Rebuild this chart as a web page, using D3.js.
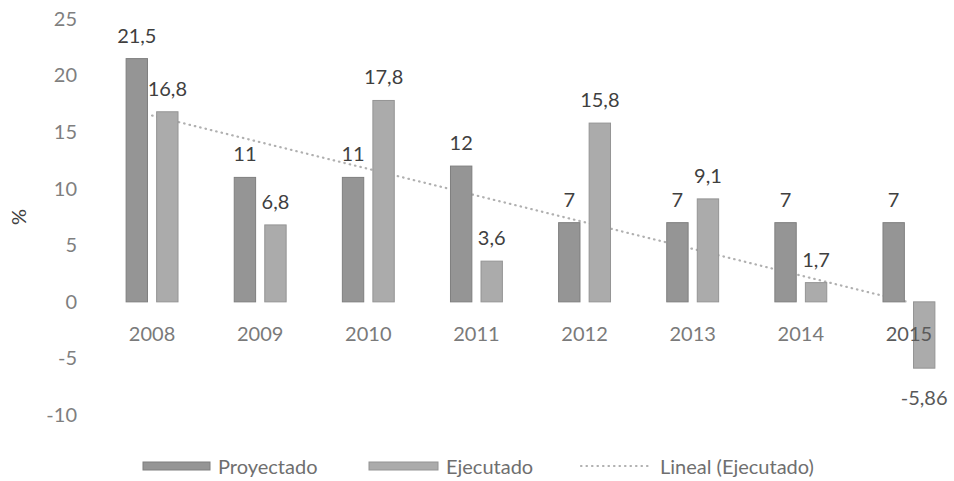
<!DOCTYPE html>
<html>
<head>
<meta charset="utf-8">
<script src="https://cdn.jsdelivr.net/npm/d3@7"></script>
<style>
  body { margin: 0; background: #fff; }
  text { font-family: Lato, "Open Sans", sans-serif; }
</style>
</head>
<body>
<div id="chart"></div>
<script>
// data
var years = ["2008", "2009", "2010", "2011", "2012", "2013", "2014", "2015"];
var seriesNames = ["Proyectado", "Ejecutado"];
var proyectado = [21.5, 11, 11, 12, 7, 7, 7, 7];
var ejecutado = [16.8, 6.8, 17.8, 3.6, 15.8, 9.1, 1.7, -5.86];
var yTicks = [-10, -5, 0, 5, 10, 15, 20, 25];

var width = 954, height = 481;
var fills = { Proyectado: "#959595", Ejecutado: "#ababab" };
var strokes = { Proyectado: "#7f7f7f", Ejecutado: "#949494" };

var svg = d3.select("#chart").append("svg")
  .attr("width", width)
  .attr("height", height);

// scales
var x0 = d3.scaleBand()
  .domain(years)
  .range([98, 963])
  .paddingInner(0.52)
  .paddingOuter(0.26);
var x1 = d3.scaleBand()
  .domain(seriesNames)
  .range([0, x0.bandwidth()])
  .paddingInner(0.3);
var y = d3.scaleLinear()
  .domain([-10, 25])
  .range([415, 19]);

var fmt = function(v) { return String(v).replace(".", ","); };

// y axis
var yAxis = svg.append("g")
  .attr("transform", "translate(85,0)")
  .call(d3.axisLeft(y).tickValues(yTicks).tickSize(0).tickPadding(8)
    .tickFormat(function(d) { return String(d); }));
yAxis.select(".domain").remove();
yAxis.selectAll("text")
  .style("font-family", "Lato, sans-serif")
  .style("font-size", "20px")
  .attr("fill", "#7f7f7f");

svg.append("text")
  .attr("transform", "translate(26,217)rotate(-90)")
  .attr("text-anchor", "middle")
  .style("font-size", "20px")
  .attr("fill", "#404040")
  .text("%");

// linear trend of Ejecutado (least squares)
var n = ejecutado.length;
var mx = d3.mean(d3.range(n)), my = d3.mean(ejecutado);
var sxy = d3.sum(ejecutado, function(v, i) { return (i - mx) * (v - my); });
var sxx = d3.sum(d3.range(n), function(i) { return (i - mx) * (i - mx); });
var slope = sxy / sxx, icpt = my - slope * mx;
var trend = [0, n - 1].map(function(i) {
  return [x0(years[i]) + x0.bandwidth() / 2, y(icpt + slope * i)];
});
svg.append("path")
  .attr("d", d3.line()(trend))
  .attr("fill", "none")
  .attr("stroke", "#b0b0b0")
  .attr("stroke-width", 2.2)
  .attr("stroke-linecap", "round")
  .attr("stroke-dasharray", "0.5,5");

// bars
var rows = years.map(function(yr, i) {
  return [
    { year: yr, key: "Proyectado", value: proyectado[i] },
    { year: yr, key: "Ejecutado", value: ejecutado[i] }
  ];
});

var groups = svg.selectAll(".grp")
  .data(rows)
  .enter().append("g")
  .attr("class", "grp")
  .attr("transform", function(d) { return "translate(" + x0(d[0].year) + ",0)"; });

groups.selectAll("rect")
  .data(function(d) { return d; })
  .enter().append("rect")
  .attr("x", function(d) { return x1(d.key); })
  .attr("width", x1.bandwidth())
  .attr("y", function(d) { return y(Math.max(0, d.value)); })
  .attr("height", function(d) { return Math.abs(y(d.value) - y(0)); })
  .attr("fill", function(d) { return fills[d.key]; })
  .attr("stroke", function(d) { return strokes[d.key]; })
  .attr("stroke-width", 1);

groups.selectAll(".val")
  .data(function(d) { return d; })
  .enter().append("text")
  .attr("class", "val")
  .attr("x", function(d) { return x1(d.key) + x1.bandwidth() / 2; })
  .attr("y", function(d) { return d.value >= 0 ? y(d.value) - 16 : y(d.value) + 37; })
  .attr("text-anchor", "middle")
  .style("font-size", "20px")
  .attr("fill", function(d) { return d.value >= 0 ? "#3f3f3f" : "#595959"; })
  .text(function(d) { return fmt(d.value); });

// x axis labels (drawn over the bars, 2015 sits on its negative bar)
var xAxis = svg.append("g")
  .attr("transform", "translate(0," + y(0) + ")")
  .call(d3.axisBottom(x0).tickSize(0).tickPadding(25));
xAxis.select(".domain").remove();
xAxis.selectAll("text")
  .style("font-family", "Lato, sans-serif")
  .style("font-size", "20px")
  .attr("fill", function(d) { return d === "2015" ? "#5a5a5a" : "#7a7a7a"; });

// legend
var legend = svg.append("g");
legend.append("rect").attr("x", 143).attr("y", 462).attr("width", 67).attr("height", 8)
  .attr("fill", fills.Proyectado).attr("stroke", strokes.Proyectado);
legend.append("text").attr("x", 218).attr("y", 474).style("font-size", "20px")
  .attr("fill", "#6f6f6f").text("Proyectado");
legend.append("rect").attr("x", 369).attr("y", 462).attr("width", 69).attr("height", 8)
  .attr("fill", fills.Ejecutado).attr("stroke", strokes.Ejecutado);
legend.append("text").attr("x", 446).attr("y", 474).style("font-size", "20px")
  .attr("fill", "#6f6f6f").text("Ejecutado");
legend.append("line").attr("x1", 581).attr("x2", 650).attr("y1", 466).attr("y2", 466)
  .attr("stroke", "#b0b0b0").attr("stroke-width", 2.2)
  .attr("stroke-linecap", "round").attr("stroke-dasharray", "0.5,5");
legend.append("text").attr("x", 660).attr("y", 474).style("font-size", "20px")
  .attr("fill", "#6f6f6f").text("Lineal (Ejecutado)");
</script>
</body>
</html>
